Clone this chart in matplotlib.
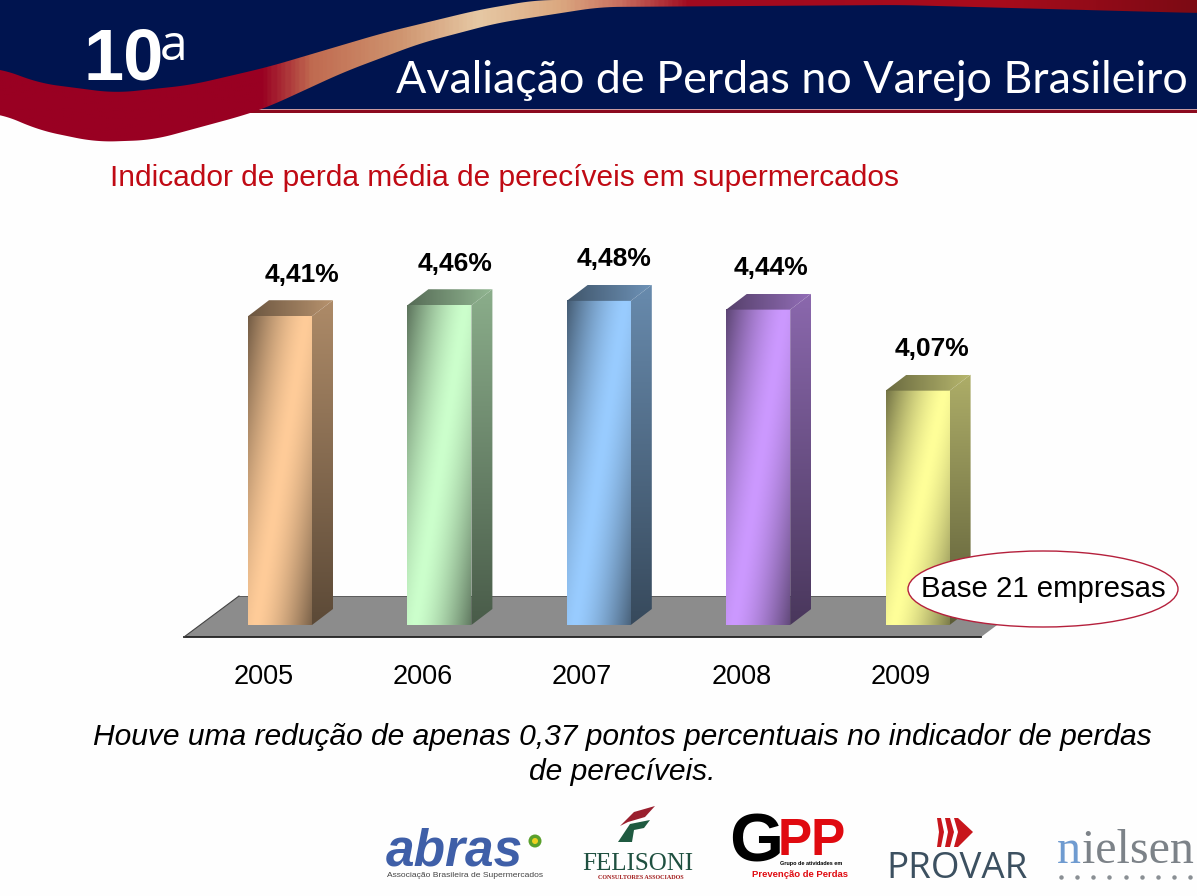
#!/usr/bin/env python3

import numpy as np
import matplotlib
matplotlib.use("Agg")
import matplotlib.pyplot as plt
from matplotlib.colors import LinearSegmentedColormap, to_rgb
from matplotlib.patches import Circle, Ellipse, Polygon, Rectangle

years = ["2005", "2006", "2007", "2008", "2009"]
values = [4.41, 4.46, 4.48, 4.44, 4.07]
value_labels = ["4,41%", "4,46%", "4,48%", "4,44%", "4,07%"]
bar_colors = ["#ffcc99", "#ccffcc", "#99ccff", "#cc99ff", "#ffff99"]

WIDTH, HEIGHT = 1197, 896
NAVY = "#00144f"
SANS = "Liberation Sans"

# chart scale: pixels per category and per percentage point
X0, X_STEP = 280, 159.4
BASE_VALUE, Y_BASE, Y_STEP = 3.0, 625, 219
BAR_W = 64 / X_STEP
DEPTH_X, DEPTH_Y = 21 / X_STEP, 16 / Y_STEP

fig = plt.figure(figsize=(WIDTH / 100, HEIGHT / 100), dpi=100, facecolor="#fefefe")

page = fig.add_axes([0, 0, 1, 1])
page.set_xlim(0, WIDTH)
page.set_ylim(HEIGHT, 0)
page.axis("off")

chart = fig.add_axes([0, 0, 1, 1], zorder=2)
chart.set_xlim(-X0 / X_STEP, (WIDTH - X0) / X_STEP)
chart.set_ylim(BASE_VALUE - (HEIGHT - Y_BASE) / Y_STEP, BASE_VALUE + Y_BASE / Y_STEP)
chart.axis("off")


def smooth_curve(points, window=41):
    xs, ys = zip(*points)
    dense_x = np.arange(xs[0], xs[-1] + 1)
    dense_y = np.interp(dense_x, xs, ys)
    pad = window // 2
    padded = np.r_[np.full(pad, dense_y[0]), dense_y, np.full(pad, dense_y[-1])]
    return dense_x, np.convolve(padded, np.ones(window) / window, mode="valid")


def draw_header():
    page.add_patch(Rectangle((0, 0), WIDTH, 110, color=NAVY, zorder=1, lw=0))
    page.add_patch(Rectangle((250, 109), WIDTH - 250, 1.6, color="#c89aa0", zorder=2, lw=0))
    page.add_patch(Rectangle((250, 110.5), WIDTH - 250, 3, color="#8c0a1e", zorder=2, lw=0))

    upper = [(0, 68), (38, 83), (115, 93), (191, 85), (268, 67), (383, 33),
             (478, 10), (536, 0), (1197, 0)]
    lower = [(0, 113), (38, 130), (96, 142), (153, 140), (245, 115), (268, 107),
             (344, 72), (421, 43), (497, 23), (600, 7), (900, 5), (1197, 13)]
    ux, uy = smooth_curve(upper)
    lx, ly = smooth_curve(lower)
    outline = np.r_[np.c_[ux, uy], np.c_[lx, ly][::-1]]

    stops = [(0, "#990022"), (260, "#990022"), (310, "#c06a50"), (400, "#cf9570"),
             (478, "#e6c8a4"), (560, "#dba880"), (620, "#c87060"), (690, "#a00a20"),
             (1000, "#a80c1c"), (1197, "#7c0a14")]
    cmap = LinearSegmentedColormap.from_list("swoosh", [(x / WIDTH, c) for x, c in stops])
    im = page.imshow(np.linspace(0, 1, 600)[None, :], cmap=cmap, aspect="auto",
                     extent=(0, WIDTH, 145, 0), zorder=3, vmin=0, vmax=1)
    im.set_clip_path(Polygon(outline, transform=page.transData))
    page.set_xlim(0, WIDTH)
    page.set_ylim(HEIGHT, 0)

    page.text(84, 80, "10", color="white", fontsize=52, family=SANS, weight="bold",
              ha="left", va="baseline", zorder=5)
    page.text(160, 60, "a", color="white", fontsize=36, family="Open Sans",
              ha="left", va="baseline", zorder=5)
    page.text(396, 93, "Avaliação de Perdas no Varejo Brasileiro", color="white", fontsize=32.3,
              family="Lato", ha="left", va="baseline", zorder=5)


def draw_logos():
    page.text(386, 865, "abras", color="#3f5fa8", fontsize=37, family=SANS,
              weight="bold", style="italic", ha="left", va="baseline")
    page.add_patch(Circle((535, 841), 6.5, color="#5aa02c", lw=0))
    page.add_patch(Circle((535, 841), 3, color="#f0d020", lw=0))
    page.text(387, 877, "Associação Brasileira de Supermercados", color="#444444",
              fontsize=6.1, family=SANS, ha="left", va="baseline")

    page.add_patch(Polygon([(620, 826), (634, 812), (655, 806), (645, 817), (628, 822)],
                           color="#9a1f2e", lw=0))
    page.add_patch(Polygon([(630, 824), (650, 820), (644, 828), (634, 830), (632, 842), (618, 842)],
                           color="#1f5a40", lw=0))
    page.text(638, 870, "FELISONI", color="#1f5040", fontsize=18, family="Liberation Serif",
              ha="center", va="baseline")
    page.text(641, 879, "CONSULTORES ASSOCIADOS", color="#a01818", fontsize=4.4,
              family="Liberation Serif", weight="bold", ha="center", va="baseline")

    page.text(729, 862, "G", color="black", fontsize=50, family=SANS, weight="bold",
              ha="left", va="baseline")
    page.text(778, 855, "PP", color="#e00a10", fontsize=37, family=SANS, weight="bold",
              ha="left", va="baseline")
    page.text(780, 865, "Grupo de atividades em", color="black", fontsize=4,
              family=SANS, weight="bold", ha="left", va="baseline")
    page.text(848, 877, "Prevenção de Perdas", color="#e00a10", fontsize=6.8,
              family=SANS, weight="bold", ha="right", va="baseline")

    page.add_patch(Polygon([(937, 818), (941, 818), (944, 832), (941, 847), (937, 847), (939, 832)],
                           color="#c8161c", lw=0))
    page.add_patch(Polygon([(945, 818), (950, 818), (954, 832), (950, 847), (945, 847), (948, 832)],
                           color="#c8161c", lw=0))
    page.add_patch(Polygon([(954, 818), (958, 818), (973, 832), (958, 847), (954, 847), (958, 832)],
                           color="#c8161c", lw=0))
    page.text(957, 878, "PROVAR", color="#3c5060", fontsize=26.5, family="Open Sans",
              ha="center", va="baseline")

    page.text(1057, 863, "n", color="#6f9bd0", fontsize=34.5, family="Liberation Serif",
              ha="left", va="baseline")
    page.text(1082, 863, "ielsen", color="#7c8288", fontsize=34.5, family="Liberation Serif",
              ha="left", va="baseline")
    page.plot(np.linspace(1061, 1190, 9), [877] * 9, "o", color="#8a8f94", ms=2.2, ls="none")


def draw_floor():
    chart.add_patch(Polygon([(184, 637), (239, 596), (1036, 596), (981, 637)],
                            transform=page.transData, facecolor="#8c8c8c", edgecolor="none", zorder=1))
    chart.plot([184, 981], [637, 637], color="#222222", lw=1.3, transform=page.transData, zorder=1)
    chart.plot([184, 239], [637, 596], color="#444444", lw=0.8, transform=page.transData, zorder=1)
    chart.plot([239, 1036], [596, 596], color="#555555", lw=0.6, transform=page.transData, zorder=1)


def shaded(color, factor):
    return np.clip(np.asarray(to_rgb(color)) * factor[..., None], 0, 1)


def draw_bar(i, value, color):
    left, right = i - BAR_W / 2, i + BAR_W / 2

    # front face: the light band runs diagonally from bottom left to top right
    xx, yy = np.meshgrid(np.linspace(0, 1, 64), np.linspace(0, 1, 200))
    peak = 0.12 + 0.8 * yy
    front = 1 - 0.62 * np.abs(xx - peak) ** 1.5
    chart.imshow(shaded(color, front), aspect="auto", origin="lower", zorder=3,
                 extent=(left, right, BASE_VALUE, value))

    # side face, darkening towards the floor
    side = shaded(color, np.linspace(0.36, 0.68, 200)[:, None] * np.ones((200, 2)))
    corners = [(right, BASE_VALUE), (right + DEPTH_X, BASE_VALUE + DEPTH_Y),
               (right + DEPTH_X, value + DEPTH_Y), (right, value)]
    im = chart.imshow(side, aspect="auto", origin="lower", zorder=3,
                      extent=(right, right + DEPTH_X, BASE_VALUE, value + DEPTH_Y))
    im.set_clip_path(Polygon(corners, transform=chart.transData))

    # top face
    top = shaded(color, np.linspace(0.42, 0.72, 80)[None, :] * np.ones((2, 80)))
    corners = [(left, value), (right, value), (right + DEPTH_X, value + DEPTH_Y),
               (left + DEPTH_X, value + DEPTH_Y)]
    im = chart.imshow(top, aspect="auto", origin="lower", zorder=3,
                      extent=(left, right + DEPTH_X, value, value + DEPTH_Y))
    im.set_clip_path(Polygon(corners, transform=chart.transData))


def draw_chart():
    draw_floor()
    x_limits, y_limits = chart.get_xlim(), chart.get_ylim()
    for i, (value, color) in enumerate(zip(values, bar_colors)):
        draw_bar(i, value, color)
    chart.set_xlim(x_limits)
    chart.set_ylim(y_limits)

    label_shift = [16, 11.5, 11, 9, 10.5]
    for i, (value, label, year) in enumerate(zip(values, value_labels, years)):
        chart.annotate(label, (i, value), xytext=(label_shift[i], 30), textcoords="offset points",
                       ha="center", va="center", fontsize=19, family=SANS, weight="bold",
                       color="black", zorder=5)
        chart.annotate(year, (i, BASE_VALUE), xytext=(-12, -37.5), textcoords="offset points",
                       ha="center", va="center", fontsize=19.5, family=SANS, color="black", zorder=5)

    chart.add_patch(Ellipse((1043, 589), 270, 76, transform=page.transData, facecolor="white",
                            edgecolor="#b5203c", lw=1, zorder=6))
    chart.text(1043, 589, "Base 21 empresas", transform=page.transData, ha="center", va="center",
               fontsize=21.2, family=SANS, color="black", zorder=7)


draw_header()
draw_logos()
draw_chart()

page.text(110, 178, "Indicador de perda média de perecíveis em supermercados", color="#c00a14",
          fontsize=21.5, family=SANS, ha="left", va="center")
page.text(622, 737, "Houve uma redução de apenas 0,37 pontos percentuais no indicador de perdas",
          color="black", fontsize=21.6, family=SANS, style="italic", ha="center", va="center")
page.text(622, 772, "de perecíveis.", color="black", fontsize=21.6, family=SANS,
          style="italic", ha="center", va="center")

fig.savefig("out.png", dpi=100, facecolor=fig.get_facecolor())
